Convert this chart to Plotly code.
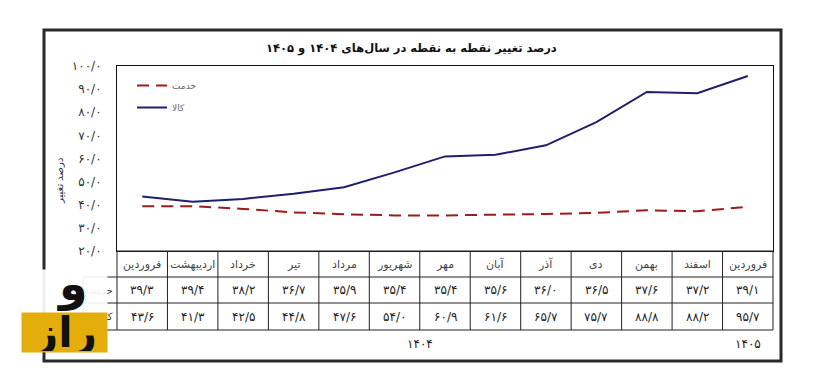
import plotly.graph_objects as go

# ---------------- data ----------------
months = ["فروردین", "اردیبهشت", "خرداد", "تیر", "مرداد", "شهریور", "مهر",
          "آبان", "آذر", "دی", "بهمن", "اسفند", "فروردین"]
service = [39.3, 39.4, 38.2, 36.7, 35.9, 35.4, 35.4, 35.6, 36.0, 36.5, 37.6, 37.2, 39.1]
goods = [43.6, 41.3, 42.5, 44.8, 47.6, 54.0, 60.9, 61.6, 65.7, 75.7, 88.8, 88.2, 95.7]
service_name = "خدمت"
goods_name = "کالا"
years = ["۱۴۰۴", "۱۴۰۵"]
year_spans = [(0, 11), (12, 12)]
y_ticks = [20, 30, 40, 50, 60, 70, 80, 90, 100]
title = "درصد تغییر نقطه به نقطه در سال‌های ۱۴۰۴ و ۱۴۰۵"
y_title = "درصد تغییر"

W, H = 836, 392
FONT = "DejaVu Sans"
PD = str.maketrans("0123456789.", "۰۱۲۳۴۵۶۷۸۹/")


def fa(v):
    return f"{v:.1f}".translate(PD)


def px(x):
    return x / W


def py(y):
    return 1 - y / H


x = list(range(len(months)))
fig = go.Figure()
fig.add_trace(go.Scatter(x=x, y=service, name=service_name, mode="lines", legendgroup="s",
                         line=dict(color="#9E1B1B", width=2, dash="12px,7px")))
fig.add_trace(go.Scatter(x=x, y=goods, name=goods_name, mode="lines", legendgroup="g",
                         line=dict(color="#1F1F6B", width=2)))

PL, PR, PT, PB = 117, 773, 66, 251
TB = [251, 277, 303, 330]
LABEL_L = 83

shapes = []
shapes.append(dict(type="rect", xref="paper", yref="paper", x0=px(44), x1=px(781),
                   y0=py(361), y1=py(30), line=dict(color="#2a2a2a", width=3)))
for i, yy in enumerate(TB):
    x0 = PL if i == 0 else LABEL_L
    shapes.append(dict(type="line", xref="paper", yref="paper", x0=px(x0), x1=px(PR),
                       y0=py(yy), y1=py(yy), line=dict(color="#222", width=1)))
shapes.append(dict(type="line", xref="paper", yref="paper", x0=px(PL), x1=px(PL),
                   y0=py(TB[0]), y1=py(TB[3]), line=dict(color="#222", width=1)))
shapes.append(dict(type="line", xref="paper", yref="paper", x0=px(PR), x1=px(PR),
                   y0=py(TB[0]), y1=py(TB[3]), line=dict(color="#222", width=1)))
shapes.append(dict(type="line", xref="paper", yref="paper", x0=px(LABEL_L), x1=px(LABEL_L),
                   y0=py(TB[1]), y1=py(TB[3]), line=dict(color="#222", width=1)))
for i in range(len(months) - 1):
    shapes.append(dict(type="line", xref="x", yref="paper", x0=i + 0.5, x1=i + 0.5,
                       y0=py(TB[0]), y1=py(TB[3]), line=dict(color="#222", width=1)))

ann = []


def A(**kw):
    kw.setdefault("showarrow", False)
    kw.setdefault("xanchor", "center")
    kw.setdefault("yanchor", "middle")
    kw.setdefault("yref", "paper")
    kw.setdefault("xref", "paper")
    ann.append(kw)


A(text="<b>" + title + "</b>", x=px(411), y=py(48),
  font=dict(family=FONT, size=11.5, color="#111"))
A(text=y_title, x=px(59), y=py(181), textangle=-90,
  font=dict(family=FONT, size=10, color="#333"))
row_c = [(TB[0] + TB[1]) / 2, (TB[1] + TB[2]) / 2, (TB[2] + TB[3]) / 2]
for i, m in enumerate(months):
    A(text=m, x=i, y=py(row_c[0]), xref="x", font=dict(family=FONT, size=11, color="#444"))
    A(text=fa(service[i]), x=i, y=py(row_c[1]), xref="x",
      font=dict(family=FONT, size=12, color="#222"))
    A(text=fa(goods[i]), x=i, y=py(row_c[2]), xref="x",
      font=dict(family=FONT, size=12, color="#222"))
for name, yc in ((service_name, row_c[1]), (goods_name, row_c[2])):
    A(text=name, x=px(115), y=py(yc), xanchor="right",
      font=dict(family=FONT, size=10, color="#333"))
for yl, (a, b) in zip(years, year_spans):
    A(text=yl, x=(a + b) / 2, y=py(344), xref="x", font=dict(family=FONT, size=12, color="#222"))
# logo overlay
A(text="", x=px(64.5), y=py(292.5), width=83, height=43,
  bgcolor="rgba(255,255,255,0.92)", font=dict(family=FONT, size=10, color="#111"))
A(text="<b>و</b>", x=px(72), y=py(294), font=dict(family=FONT, size=46, color="#111"),
  yshift=10)
A(text="<b>راز</b>", x=px(64.5), y=py(332.5), width=83, height=37,
  bgcolor="#E3AE0B", font=dict(family=FONT, size=42, color="#111"))

fig.update_layout(
    width=W, height=H, margin=dict(l=0, r=0, t=0, b=0, autoexpand=False),
    paper_bgcolor="white", plot_bgcolor="white",
    showlegend=True,
    legend=dict(x=px(132), y=py(71), xanchor="left", yanchor="top", bgcolor="rgba(0,0,0,0)",
                font=dict(family=FONT, size=9, color="#666"), tracegroupgap=3),
    xaxis=dict(domain=[px(PL), px(PR)], range=[-0.5, 12.5], showticklabels=False,
               showgrid=False, zeroline=False, showline=True, mirror=True, automargin=False,
               linecolor="#111", linewidth=1, ticks=""),
    yaxis=dict(domain=[py(PB), py(PT)], range=[20, 100], tickvals=y_ticks, automargin=False,
               ticktext=[fa(v) for v in y_ticks], showgrid=False, zeroline=False,
               showline=True, mirror=True, linecolor="#111", linewidth=1, ticks="",
               ticklabelstandoff=12, tickfont=dict(family=FONT, size=12, color="#333")),
    shapes=shapes, annotations=ann, hovermode=False,
)
post = ("var gd=document.getElementById('{plot_id}');"
        "gd.style.position='fixed';gd.style.top='0';gd.style.left='0';"
        "document.body.style.margin='0';document.body.style.overflow='hidden';"
        "document.documentElement.style.overflow='hidden';")
fig.write_html("out.html", config={"displayModeBar": False}, post_script=post)
